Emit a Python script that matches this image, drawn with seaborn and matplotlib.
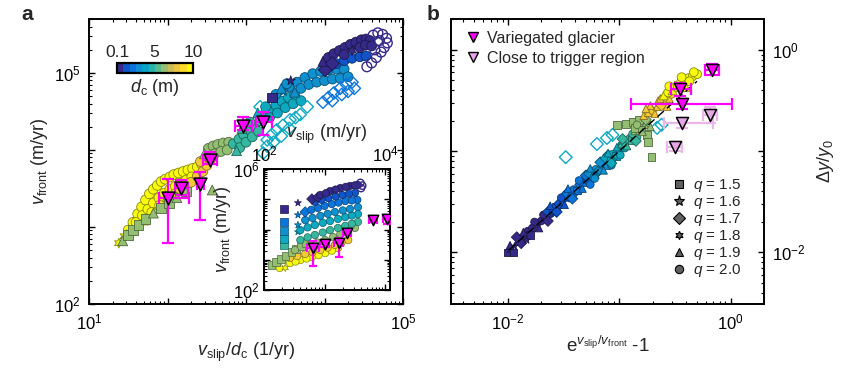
import numpy as np
import pandas as pd
import matplotlib
matplotlib.use("Agg")
import matplotlib.pyplot as plt
import seaborn as sns
from matplotlib.colors import LinearSegmentedColormap, ListedColormap, Normalize
from matplotlib.lines import Line2D
from matplotlib.ticker import LogLocator, FuncFormatter, NullFormatter

sns.set_theme(style="ticks")
plt.rcParams["font.family"] = ["Liberation Sans", "DejaVu Sans"]
plt.rcParams["mathtext.fontset"] = "custom"
plt.rcParams["mathtext.rm"] = "Liberation Sans"
plt.rcParams["mathtext.it"] = "Liberation Sans:italic"
plt.rcParams["mathtext.bf"] = "Liberation Sans:bold"

# ---------------- data (log10 values) ----------------
# panel a main: (log10 v_slip/d_c [1/yr], log10 v_front [m/yr], q) per d_c group
A_DC100 = [(1.38, 2.79, 1.8), (1.45, 2.88, 1.8), (1.50, 2.96, 2.0), (1.56, 3.06, 2.0), (1.62, 3.17, 2.0),
           (1.67, 3.26, 2.0), (1.72, 3.35, 2.0), (1.77, 3.43, 2.0), (1.82, 3.49, 2.0), (1.87, 3.54, 2.0),
           (1.92, 3.59, 2.0), (1.97, 3.62, 2.0), (2.03, 3.65, 2.0), (2.08, 3.68, 2.0), (2.14, 3.70, 2.0),
           (2.20, 3.72, 2.0), (2.26, 3.74, 2.0), (2.32, 3.76, 2.0), (2.38, 3.78, 2.0), (2.44, 3.81, 2.0),
           (1.60, 3.06, 2.0), (1.68, 3.15, 2.0), (1.75, 3.23, 2.0), (1.82, 3.31, 2.0), (1.89, 3.38, 2.0),
           (1.96, 3.44, 2.0), (2.03, 3.49, 2.0), (2.10, 3.53, 2.0), (2.17, 3.57, 2.0), (2.24, 3.61, 2.0),
           (2.31, 3.65, 2.0), (1.48, 2.90, 1.9), (1.70, 3.09, 1.9), (1.80, 3.19, 2.0), (1.90, 3.28, 2.0),
           (2.00, 3.36, 1.8), (2.10, 3.43, 2.0), (2.20, 3.49, 2.0)]
A_DC85 = [(2.30, 3.58, 2.0), (2.38, 3.66, 2.0), (2.45, 3.72, 2.0), (2.50, 3.80, 2.0), (2.42, 3.85, 2.0),
          (2.55, 3.88, 2.0), (2.15, 3.50, 2.0), (2.22, 3.55, 1.9)]
A_DC63 = [(1.43, 2.82, 1.9), (1.50, 2.90, 1.5), (1.56, 2.96, 1.5), (1.63, 3.03, 1.5), (1.72, 3.10, 1.5),
          (1.82, 3.18, 1.9), (1.92, 3.25, 1.5), (2.02, 3.31, 1.5), (2.12, 3.38, 1.9), (2.24, 3.46, 1.5),
          (2.57, 3.48, 1.9), (2.52, 4.02, 2.0), (2.58, 4.05, 2.0), (2.64, 4.07, 2.0), (2.71, 4.09, 2.0),
          (2.78, 4.10, 2.0), (2.60, 3.95, 2.0), (2.68, 3.98, 2.0), (2.76, 4.00, 2.0), (2.47, 3.95, 1.9)]
A_DC50 = [(2.84, 4.08, 2.0), (2.91, 4.14, 2.0), (2.97, 4.20, 2.0), (3.04, 4.26, 2.0), (3.11, 4.32, 2.0),
          (3.18, 4.38, 2.0), (2.92, 4.03, 2.0), (3.00, 4.10, 2.0), (3.08, 4.17, 2.0), (3.16, 4.24, 2.0),
          (2.88, 3.99, 1.9), (2.95, 4.28, 1.9), (3.05, 4.36, 2.0)]
A_DC40 = [(3.22, 4.45, 2.0), (3.30, 4.52, 2.0), (3.38, 4.58, 2.0), (3.46, 4.63, 2.0), (3.54, 4.68, 2.0),
          (3.62, 4.72, 2.0), (3.30, 4.42, 2.0), (3.40, 4.48, 2.0), (3.50, 4.55, 2.0), (3.60, 4.60, 2.0),
          (3.70, 4.64, 2.0), (3.15, 4.48, 1.9), (3.25, 4.56, 2.0)]
A_DC40_OPEN = [(3.22, 3.96, 1.7), (3.27, 4.05, 1.7), (3.27, 4.13, 1.7), (3.33, 4.20, 1.7), (3.39, 4.26, 1.7),
               (3.47, 4.32, 1.7), (3.56, 4.39, 1.7), (3.63, 4.42, 1.7), (3.69, 4.46, 1.7), (3.78, 4.56, 1.7),
               (3.35, 4.10, 1.7), (3.45, 4.18, 1.7), (3.55, 4.28, 1.7), (3.18, 4.56, 1.7)]
A_DC30 = [(3.55, 4.82, 2.0), (3.65, 4.88, 2.0), (3.75, 4.94, 2.0), (3.85, 4.99, 2.0), (3.95, 5.02, 2.0),
          (4.05, 5.04, 2.0), (4.15, 5.05, 2.0), (4.25, 5.05, 2.0), (3.70, 4.80, 2.0), (3.80, 4.85, 2.0),
          (3.90, 4.88, 2.0), (4.00, 4.90, 2.0), (4.10, 4.92, 2.0), (4.20, 4.93, 2.0), (4.30, 4.95, 2.0),
          (3.62, 4.75, 1.9), (3.48, 4.76, 1.6), (3.38, 4.72, 2.0), (3.45, 4.80, 1.9), (3.52, 4.86, 2.0)]
A_DC20_OPEN = [(3.98, 4.62, 1.7), (4.05, 4.68, 1.7), (4.12, 4.74, 1.7), (4.20, 4.80, 1.7), (4.28, 4.85, 1.7),
               (4.35, 4.88, 1.7), (4.22, 4.72, 1.7), (4.30, 4.76, 1.7), (4.38, 4.80, 1.7), (4.10, 4.64, 1.7)]
A_DC10 = [(4.05, 5.08, 1.7), (4.15, 5.12, 2.0), (4.25, 5.16, 2.0), (4.35, 5.19, 2.0), (4.45, 5.21, 2.0),
          (4.53, 5.22, 2.0)]
A_DC01 = [(3.33, 4.68, 1.5), (3.57, 4.90, 1.6), (4.01, 5.04, 1.7), (3.98, 5.15, 1.9), (4.05, 5.20, 2.0),
          (4.12, 5.25, 2.0), (4.19, 5.29, 2.0), (4.26, 5.33, 2.0), (4.33, 5.37, 2.0), (4.40, 5.40, 2.0),
          (4.47, 5.43, 2.0), (4.53, 5.44, 2.0), (4.58, 5.42, 2.0), (4.25, 5.24, 2.0), (4.35, 5.29, 1.8),
          (4.45, 5.33, 2.0), (4.52, 5.36, 2.0), (4.60, 5.35, 2.0), (4.10, 5.12, 1.7)]
A_DC01_OPEN = [(4.62, 5.49, 2.0), (4.68, 5.52, 2.0), (4.74, 5.50, 2.0), (4.79, 5.45, 2.0), (4.80, 5.39, 2.0),
               (4.76, 5.33, 2.0), (4.72, 5.27, 2.0), (4.66, 5.20, 2.0), (4.60, 5.13, 2.0), (4.54, 5.08, 2.0),
               (4.70, 5.42, 2.0), (4.64, 5.30, 2.0)]

# inset: (log10 v_slip [m/yr], log10 v_front [m/yr], q)
I_DC01 = [(2.33, 4.68, 1.5), (2.56, 4.88, 1.6), (2.79, 5.01, 1.7), (2.89, 5.07, 1.7), (2.93, 5.14, 2.0),
          (3.09, 5.27, 2.0), (3.26, 5.37, 2.0), (3.42, 5.44, 2.0), (3.55, 5.47, 2.0), (3.02, 5.20, 2.0),
          (3.18, 5.32, 2.0), (3.35, 5.41, 2.0), (3.50, 5.46, 2.0)]
I_DC10 = [(2.84, 4.91, 2.0), (3.06, 5.04, 2.0), (3.29, 5.14, 2.0), (3.50, 5.21, 2.0), (2.95, 4.98, 2.0),
          (3.18, 5.09, 2.0), (3.40, 5.18, 2.0)]
I_DC20 = [(2.33, 4.25, 1.5), (2.56, 4.48, 1.6), (2.68, 4.58, 1.7), (2.89, 4.71, 2.0), (3.12, 4.84, 2.0),
          (3.34, 4.94, 2.0), (3.54, 4.98, 2.0), (2.78, 4.65, 2.0), (3.00, 4.78, 2.0), (3.23, 4.89, 2.0),
          (3.45, 4.96, 2.0)]
I_DC30 = [(2.33, 3.95, 1.5), (2.56, 4.15, 1.6), (2.68, 4.31, 2.0), (2.93, 4.45, 2.0), (3.17, 4.58, 2.0),
          (3.42, 4.68, 2.0), (3.55, 4.74, 2.0), (2.80, 4.38, 2.0), (3.05, 4.52, 2.0), (3.30, 4.63, 2.0)]
I_DC40 = [(2.33, 3.69, 1.5), (2.56, 3.92, 1.6), (2.60, 3.98, 2.0), (2.84, 4.15, 2.0), (3.09, 4.28, 2.0),
          (3.34, 4.41, 2.0), (3.55, 4.51, 2.0), (2.72, 4.07, 2.0), (2.97, 4.22, 2.0), (3.22, 4.35, 2.0),
          (3.45, 4.46, 2.0)]
I_DC50 = [(2.33, 3.49, 1.5), (2.60, 3.65, 2.0), (2.84, 3.82, 2.0), (3.09, 3.98, 2.0), (3.34, 4.12, 2.0),
          (3.55, 4.25, 2.0), (2.72, 3.74, 2.0), (2.97, 3.90, 2.0), (3.22, 4.05, 2.0), (3.45, 4.19, 2.0)]
I_DC63 = [(2.12, 2.83, 1.5), (2.20, 2.93, 1.5), (2.28, 3.02, 1.5), (2.36, 3.12, 1.5), (2.45, 3.26, 1.5),
          (2.53, 3.36, 1.5), (2.61, 3.45, 1.5), (2.69, 3.55, 1.5), (2.51, 3.32, 2.0), (2.76, 3.49, 2.0),
          (3.01, 3.65, 2.0), (3.26, 3.85, 2.0), (3.50, 4.05, 2.0), (2.88, 3.57, 2.0), (3.14, 3.75, 2.0),
          (3.38, 3.95, 2.0)]
I_DC85 = [(2.43, 3.06, 2.0), (2.68, 3.19, 2.0), (2.93, 3.32, 2.0), (3.17, 3.49, 2.0), (3.39, 3.65, 2.0),
          (2.55, 3.12, 2.0), (2.80, 3.25, 2.0), (3.05, 3.40, 2.0), (3.28, 3.57, 2.0)]
I_DC100 = [(2.26, 2.73, 2.0), (2.35, 2.73, 1.8), (2.43, 2.89, 2.0), (2.60, 2.99, 2.0), (2.79, 3.09, 2.0),
           (3.01, 3.22, 2.0), (3.22, 3.39, 2.0), (2.52, 2.94, 2.0), (2.70, 3.04, 2.0), (2.90, 3.15, 2.0),
           (3.12, 3.30, 2.0)]
I_DC01_OPEN = [(3.59, 5.54, 2.0), (3.62, 5.45, 2.0), (3.60, 5.37, 2.0)]

# panel b: (log10 (e^{v_slip/v_front}-1), log10 dy/y0, q)
B_DC01 = [(-2.00, -2.00, 1.5), (-1.97, -1.96, 1.9), (-1.94, -1.94, 1.6), (-1.91, -1.89, 1.9),
          (-1.88, -1.87, 1.8), (-1.85, -1.84, 1.9), (-1.82, -1.79, 2.0), (-1.78, -1.76, 2.0),
          (-1.74, -1.72, 2.0), (-1.70, -1.69, 2.0), (-1.66, -1.66, 2.0), (-1.62, -1.62, 2.0),
          (-1.88, -1.91, 1.7), (-1.80, -1.83, 1.5), (-1.98, -1.93, 1.9), (-1.95, -2.00, 1.5),
          (-1.92, -1.85, 1.7), (-1.86, -1.80, 1.9), (-1.83, -1.88, 1.6), (-1.76, -1.70, 2.0),
          (-1.72, -1.76, 1.9), (-1.68, -1.63, 2.0), (-1.64, -1.69, 1.7)]
B_DC10 = [(-1.64, -1.60, 1.7), (-1.60, -1.58, 1.9), (-1.57, -1.55, 1.5), (-1.54, -1.52, 1.7),
          (-1.51, -1.50, 1.9), (-1.48, -1.46, 2.0), (-1.45, -1.45, 1.7), (-1.58, -1.62, 1.6),
          (-1.62, -1.54, 1.9), (-1.56, -1.60, 1.7), (-1.52, -1.46, 2.0), (-1.49, -1.53, 1.9),
          (-1.46, -1.41, 1.7)]
B_DC20 = [(-1.47, -1.42, 1.7), (-1.44, -1.43, 1.9), (-1.41, -1.38, 2.0), (-1.38, -1.39, 1.5),
          (-1.35, -1.33, 1.7), (-1.32, -1.31, 1.9), (-1.29, -1.28, 2.0), (-1.27, -1.30, 1.7),
          (-1.24, -1.23, 1.5), (-1.40, -1.44, 1.6), (-1.46, -1.37, 1.9), (-1.42, -1.47, 1.7),
          (-1.36, -1.29, 2.0), (-1.33, -1.37, 1.9), (-1.30, -1.24, 1.7), (-1.26, -1.33, 2.0)]
B_DC30 = [(-1.27, -1.22, 1.7), (-1.24, -1.24, 1.9), (-1.21, -1.18, 2.0), (-1.18, -1.19, 1.7),
          (-1.15, -1.13, 1.9), (-1.12, -1.14, 1.5), (-1.10, -1.08, 2.0), (-1.08, -1.11, 1.7),
          (-1.20, -1.24, 1.6), (-1.26, -1.17, 1.9), (-1.22, -1.27, 2.0), (-1.17, -1.11, 1.7),
          (-1.14, -1.19, 1.9), (-1.10, -1.04, 1.7), (-1.07, -1.14, 2.0)]
B_DC40 = [(-1.12, -1.07, 1.7), (-1.09, -1.08, 1.9), (-1.06, -1.03, 2.0), (-1.03, -1.05, 1.5),
          (-1.00, -0.98, 1.7), (-0.97, -0.96, 1.9), (-0.95, -0.97, 2.0), (-1.05, -1.09, 1.6),
          (-1.10, -1.02, 1.9), (-1.07, -1.12, 1.7), (-1.02, -0.96, 1.9), (-0.99, -1.04, 2.0),
          (-0.96, -0.92, 1.7)]
B_DC50 = [(-0.98, -0.93, 1.9), (-0.95, -0.92, 2.0), (-0.92, -0.89, 1.7), (-0.89, -0.89, 1.5),
          (-0.86, -0.84, 1.9), (-0.84, -0.86, 2.0), (-0.97, -0.88, 1.7), (-0.93, -0.95, 1.9),
          (-0.88, -0.83, 2.0), (-0.85, -0.90, 1.7), (-0.82, -0.79, 1.9)]
B_DC63 = [(-0.86, -0.80, 1.9), (-0.83, -0.79, 1.7), (-0.80, -0.76, 2.0), (-0.77, -0.74, 1.9),
          (-0.74, -0.72, 1.6), (-1.02, -0.74, 1.5), (-0.94, -0.73, 1.5), (-0.88, -0.71, 1.5),
          (-0.82, -0.69, 1.5), (-0.86, -0.77, 1.5), (-0.80, -0.79, 1.5), (-0.75, -0.84, 1.5),
          (-0.74, -0.91, 1.5), (-0.71, -1.06, 1.5), (-0.84, -0.74, 2.0), (-0.79, -0.81, 1.9),
          (-0.76, -0.69, 1.7), (-0.72, -0.76, 1.9)]
B_DC85 = [(-0.78, -0.65, 1.9), (-0.74, -0.62, 1.9), (-0.70, -0.60, 2.0), (-0.66, -0.56, 1.9),
          (-0.62, -0.55, 1.7), (-0.58, -0.50, 1.9), (-0.55, -0.48, 1.9), (-0.72, -0.55, 1.9),
          (-0.65, -0.50, 1.9), (-0.60, -0.45, 1.9), (-0.76, -0.58, 1.9), (-0.68, -0.63, 1.9),
          (-0.63, -0.48, 1.9), (-0.57, -0.56, 1.9), (-0.53, -0.44, 2.0)]
B_DC100 = [(-0.60, -0.45, 1.9), (-0.56, -0.42, 2.0), (-0.52, -0.40, 1.9), (-0.48, -0.37, 2.0),
           (-0.45, -0.34, 1.9), (-0.42, -0.32, 2.0), (-0.38, -0.28, 2.0), (-0.34, -0.26, 2.0),
           (-0.30, -0.24, 2.0), (-0.37, -0.31, 2.0), (-0.50, -0.35, 1.9), (-0.46, -0.30, 1.9),
           (-0.55, -0.36, 2.0), (-0.44, -0.27, 2.0), (-0.40, -0.37, 1.9), (-0.33, -0.22, 2.0)]
B_DC40_OPEN = [(-1.48, -1.06, 1.7), (-1.20, -0.93, 1.7), (-1.11, -0.87, 1.7), (-1.06, -0.84, 1.7),
               (-0.66, -0.77, 1.7), (-0.62, -0.74, 1.7)]

# Variegated glacier observations
VG_FRONT = [2400, 3240, 3630, 7400, 20400, 23000]
VG_FRONT_LO = [616, 2600, 1230, 6500, 18200, 15500]
VG_FRONT_HI = [4200, 4100, 5200, 9400, 26900, 31000]
VG_RATE = [100, 150, 260, 350, 910, 1660]
VG_RATE_LO = [78, 125, 235, 285, 725, 1350]
VG_RATE_HI = [186, 185, 290, 430, 1200, 2130]
VG_SLIP = [650, 1000, 1740, 2300, 6200, 10700]
VG_SLIP_LO = [520, 850, 1450, 2000, 5500, 9300]
VG_SLIP_HI = [800, 1200, 2050, 2700, 7200, 12500]

VG_B_X = [0.68, 0.355, 0.37]
VG_B_X_LO = [0.59, 0.29, 0.127]
VG_B_X_HI = [0.79, 0.44, 1.02]
VG_B_Y = [0.64, 0.41, 0.29]
VG_B_Y_LO = [0.57, 0.35, 0.26]
VG_B_Y_HI = [0.72, 0.47, 0.33]
CT_X = [0.66, 0.37, 0.32]
CT_X_LO = [0.56, 0.25, 0.27]
CT_X_HI = [0.76, 0.69, 0.37]
CT_Y = [0.23, 0.19, 0.11]
CT_Y_LO = [0.19, 0.17, 0.10]
CT_Y_HI = [0.27, 0.21, 0.12]

FIT_X = [0.0102, 0.50]
FIT_Y = [0.0105, 0.49]

Q_LEVELS = ["1.5", "1.6", "1.7", "1.8", "1.9", "2.0"]
CBAR_TICKS = [0.1, 5, 10]

# ---------------- styling ----------------
PARULA = LinearSegmentedColormap.from_list(
    "parula", ["#352a87", "#0363e1", "#1485d4", "#06a7c6", "#38b99e",
               "#92bf73", "#d9ba56", "#fcce2e", "#f9fb0e"])
BAR_CMAP = ListedColormap(PARULA(np.linspace(0, 1, 12)))
NORM = Normalize(0.1, 10)
MARKERS = {"1.5": "s", "1.6": "*", "1.7": "D", "1.8": (6, 1, 0), "1.9": "^", "2.0": "o"}
MAGENTA = "#ff00ff"
PLUM = "#e4a6e4"
TICK_FS = 12
LABEL_FS = 13
LEG_FS = 11.5


def to_df(groups):
    frames = []
    for dc, pts in groups:
        arr = np.array(pts, dtype=float)
        frames.append(pd.DataFrame({"x": 10 ** arr[:, 0], "y": 10 ** arr[:, 1], "dc": dc,
                                    "q": ["%.1f" % v for v in arr[:, 2]]}))
    return pd.concat(frames, ignore_index=True)


def draw(ax, groups, s, open_=False, lw=0.6):
    df = to_df(groups)
    sns.scatterplot(data=df, x="x", y="y", hue="dc", hue_norm=NORM, palette=PARULA,
                    style="q", markers=MARKERS, s=s, legend=False, ax=ax, linewidth=lw)
    coll = ax.collections[-1]
    fc = np.array(coll.get_facecolors())
    if open_:
        coll.set_edgecolors(fc)
        coll.set_facecolors("none")
        coll.set_linewidths(1.0)
    else:
        ec = fc.copy()
        ec[:, :3] *= 0.55
        coll.set_edgecolors(ec)
        coll.set_linewidths(lw)


def glacier(ax, x, xlo, xhi, y, ylo, yhi, color, ecolor, s, cap=4):
    x, y = np.array(x), np.array(y)
    ax.errorbar(x, y, xerr=[x - np.array(xlo), np.array(xhi) - x],
                yerr=[y - np.array(ylo), np.array(yhi) - y], fmt="none",
                ecolor=ecolor, elinewidth=1.6, capsize=cap, capthick=1.6, zorder=4)
    sns.scatterplot(x=x, y=y, marker="v", color=color, edgecolor="black", linewidth=1.1,
                    s=s, ax=ax, zorder=5, legend=False)


def sel_fmt(keep):
    def f(v, p):
        e = int(round(np.log10(v)))
        return (r"$10^{%d}$" % e) if e in keep else ""
    return FuncFormatter(f)


def style_log_axes(ax, xkeep, ykeep, fs=TICK_FS):
    for axis, keep in ((ax.xaxis, xkeep), (ax.yaxis, ykeep)):
        axis.set_major_locator(LogLocator(base=10, numticks=15))
        axis.set_minor_locator(LogLocator(base=10, subs=np.arange(2, 10), numticks=15))
        axis.set_major_formatter(sel_fmt(keep))
        axis.set_minor_formatter(NullFormatter())
    ax.tick_params(which="both", direction="in", top=True, right=True, bottom=True, left=True,
                   labelsize=fs, colors="black")
    ax.tick_params(which="major", length=4.5, width=1.0)
    ax.tick_params(which="minor", length=2.5, width=0.8)
    for sp in ax.spines.values():
        sp.set_linewidth(1.4)
        sp.set_color("black")
        sp.set_visible(True)


W, H = 841, 370
fig = plt.figure(figsize=(W / 100, H / 100), dpi=100)

# ---------------- panel a ----------------
ax = fig.add_axes([89 / W, 1 - 304 / H, 314 / W, 285 / H])
ax.set_xscale("log")
ax.set_yscale("log")
draw(ax, [(10, A_DC100), (8.5, A_DC85), (6.3, A_DC63), (5.0, A_DC50), (4.0, A_DC40)], 50)
draw(ax, [(4.0, A_DC40_OPEN)], 40, open_=True)
draw(ax, [(3.0, A_DC30), (1.0, A_DC10), (0.1, A_DC01)], 50)
draw(ax, [(2.0, A_DC20_OPEN)], 40, open_=True)
draw(ax, [(0.1, A_DC01_OPEN)], 50, open_=True)
glacier(ax, VG_RATE, VG_RATE_LO, VG_RATE_HI, VG_FRONT, VG_FRONT_LO, VG_FRONT_HI, MAGENTA, MAGENTA, 85)
ax.set_xlim(10, 1e5)
ax.set_ylim(100, 10 ** 5.7)
style_log_axes(ax, {1, 5}, {2, 5})
ax.tick_params(axis="x", pad=6)
ax.tick_params(axis="y", pad=6)
ax.set_xlabel(r"$v_\mathrm{slip}/d_\mathrm{c}$ (1/yr)", fontsize=LABEL_FS, labelpad=6)
ax.set_ylabel(r"$v_\mathrm{front}$ (m/yr)", fontsize=LABEL_FS, labelpad=3)

# colorbar
cax = fig.add_axes([117 / W, 1 - 73 / H, 76 / W, 10 / H])
cb = fig.colorbar(plt.cm.ScalarMappable(norm=NORM, cmap=BAR_CMAP), cax=cax, orientation="horizontal")
cb.set_ticks(CBAR_TICKS)
cb.set_ticklabels(["0.1", "5", "10"])
cax.xaxis.set_ticks_position("top")
cax.tick_params(length=0, pad=2, labelsize=12.5)
cb.outline.set_linewidth(1.6)
cb.outline.set_edgecolor("black")
cax.set_xlabel(r"$d_\mathrm{c}$ (m)", fontsize=LABEL_FS, labelpad=3)
cax.xaxis.set_label_position("bottom")

# inset
ins = fig.add_axes([264 / W, 1 - 290 / H, 126 / W, 121 / H])
ins.set_xscale("log")
ins.set_yscale("log")
draw(ins, [(10, I_DC100), (8.5, I_DC85), (6.3, I_DC63), (5.0, I_DC50), (4.0, I_DC40),
           (3.0, I_DC30), (2.0, I_DC20), (1.0, I_DC10), (0.1, I_DC01)], 28, lw=0.5)
draw(ins, [(0.1, I_DC01_OPEN)], 28, open_=True)
glacier(ins, VG_SLIP, VG_SLIP_LO, VG_SLIP_HI, VG_FRONT, VG_FRONT_LO, VG_FRONT_HI, MAGENTA, MAGENTA, 55, cap=3)
ins.set_xlim(100, 1.2e4)
ins.set_ylim(100, 1e6)
style_log_axes(ins, {2, 4}, {2, 6})
ins.tick_params(which="both", labeltop=True, labelbottom=False, pad=3)
ins.xaxis.set_label_position("top")
ins.set_xlabel(r"$v_\mathrm{slip}$ (m/yr)", fontsize=LABEL_FS, labelpad=5)
ins.set_ylabel(r"$v_\mathrm{front}$ (m/yr)", fontsize=LABEL_FS, labelpad=0)

# ---------------- panel b ----------------
bx = fig.add_axes([451 / W, 1 - 304 / H, 313 / W, 285 / H])
bx.set_xscale("log")
bx.set_yscale("log")
draw(bx, [(0.1, B_DC01), (1.0, B_DC10), (2.0, B_DC20), (3.0, B_DC30), (4.0, B_DC40), (5.0, B_DC50)], 30)
draw(bx, [(4.0, B_DC40_OPEN)], 42, open_=True)
draw(bx, [(6.3, B_DC63), (8.5, B_DC85)], 30)
draw(bx, [(10, B_DC100)], 40)
sns.lineplot(x=FIT_X, y=FIT_Y, color="black", lw=1.0, ax=bx, linestyle=(0, (6, 3)), zorder=3)
glacier(bx, CT_X, CT_X_LO, CT_X_HI, CT_Y, CT_Y_LO, CT_Y_HI, PLUM, "#ecb8ec", 75)
glacier(bx, VG_B_X, VG_B_X_LO, VG_B_X_HI, VG_B_Y, VG_B_Y_LO, VG_B_Y_HI, MAGENTA, MAGENTA, 75)
bx.set_xlim(10 ** -2.51, 10 ** 0.3)
bx.set_ylim(10 ** -2.51, 10 ** 0.305)
style_log_axes(bx, {-2, 0}, {-2, 0})
bx.tick_params(axis="y", labelleft=False, labelright=True, pad=6)
bx.tick_params(axis="x", pad=6)
bx.yaxis.set_label_position("right")
bx.set_ylabel(r"$\Delta y/y_0$", fontsize=LABEL_FS, labelpad=7)
bx.set_xlabel(r"e$^{v_\mathrm{slip}/v_\mathrm{front}}$ -1", fontsize=13.5, labelpad=3)

h1 = [Line2D([], [], ls="", marker="v", markerfacecolor=MAGENTA, markeredgecolor="black", markersize=7.5),
      Line2D([], [], ls="", marker="v", markerfacecolor=PLUM, markeredgecolor="black", markersize=7.5)]
leg1 = bx.legend(h1, ["Variegated glacier", "Close to trigger region"], loc="upper left",
                 bbox_to_anchor=(0.046, 0.958), frameon=False, fontsize=LEG_FS, handletextpad=0.35,
                 handlelength=1.0, labelspacing=0.3, borderaxespad=0, borderpad=0)
bx.add_artist(leg1)
h2 = [Line2D([], [], ls="", marker=MARKERS[q], markerfacecolor="#606060", markeredgecolor="black",
             markeredgewidth=0.8, markersize=6 if q != "1.6" else 8) for q in Q_LEVELS]
bx.legend(h2, [r"$q$ = %s" % q for q in Q_LEVELS], loc="upper left", bbox_to_anchor=(0.705, 0.445),
          frameon=False, fontsize=11, handletextpad=0.4, handlelength=1.0, labelspacing=0.0,
          borderaxespad=0, borderpad=0)

fig.text(27 / W, 1 - 15 / H, "a", fontsize=15, fontweight="bold", ha="center", va="center")
fig.text(433 / W, 1 - 14 / H, "b", fontsize=15, fontweight="bold", ha="center", va="center")

fig.savefig("out.png", dpi=100)
